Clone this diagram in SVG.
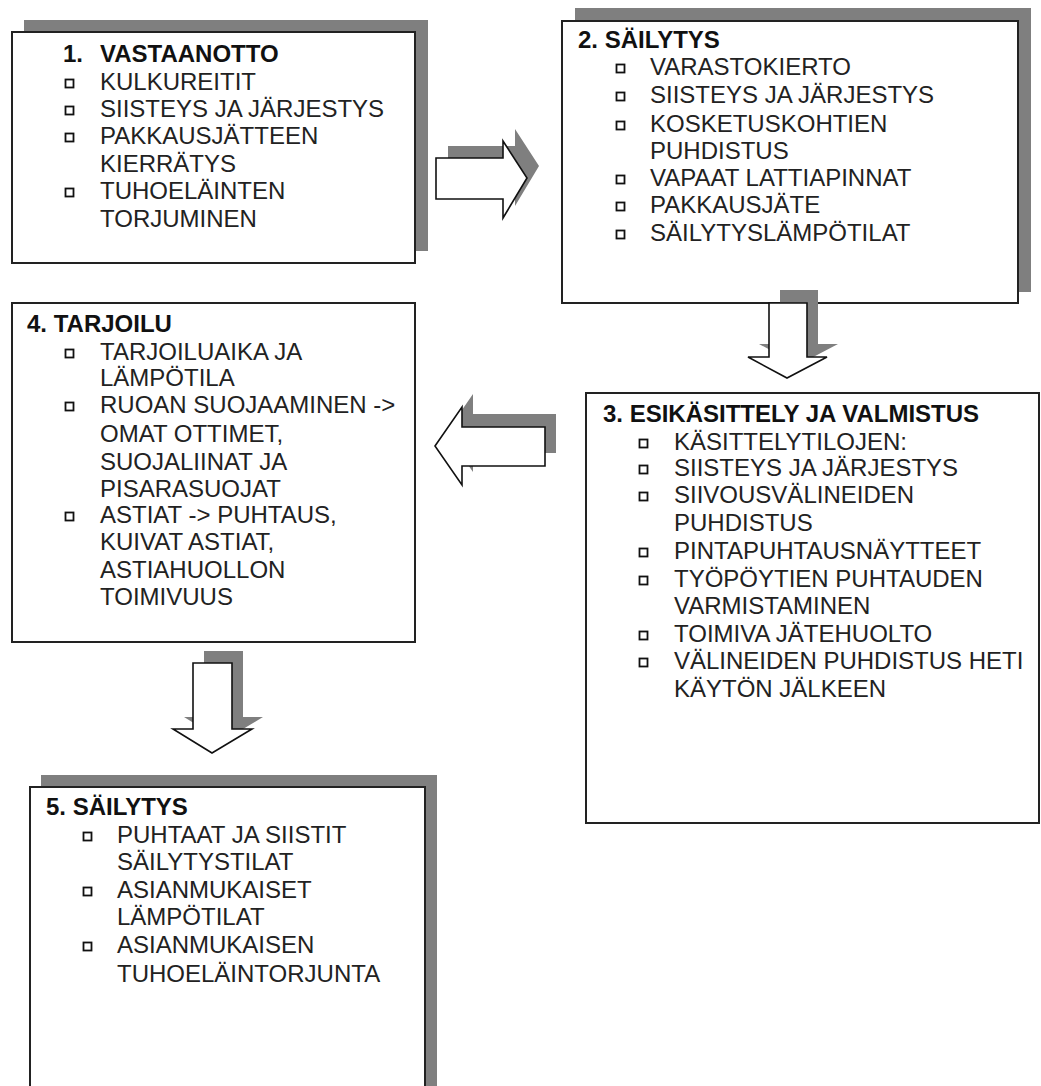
<svg xmlns="http://www.w3.org/2000/svg" width="1041" height="1086" viewBox="0 0 1041 1086">
<style>
.bg{fill:#ffffff}
.shadow{fill:#7f7f7f;stroke:none}
.box{fill:#ffffff;stroke:#222222;stroke-width:2}
.h{font-family:"Liberation Sans",Arial,sans-serif;font-size:24px;font-weight:bold;fill:#111111}
.t{font-family:"Liberation Sans",Arial,sans-serif;font-size:24px;fill:#222222}
.b{fill:none;stroke:#111111;stroke-width:1.8}
.arrow{fill:#ffffff;stroke:#111111;stroke-width:1.6;stroke-linejoin:miter}
</style>
<defs>
<rect id="bul" x="-0.5" y="-0.5" width="8" height="8" class="b"/>
</defs>
<rect class="bg" x="0" y="0" width="1041" height="1086"/>

<g id="node1">
<rect class="shadow" x="24" y="20" width="404" height="231"/>
<rect class="box" x="12" y="32" width="403" height="231"/>
<text class="h" x="63" y="62">1.<tspan x="100">VASTAANOTTO</tspan></text>
<use href="#bul" x="66" y="80"/><text class="t" x="100" y="90">KULKUREITIT</text>
<use href="#bul" x="66" y="107"/><text class="t" x="100" y="117">SIISTEYS JA JÄRJESTYS</text>
<use href="#bul" x="66" y="134"/><text class="t" x="100" y="144">PAKKAUSJÄTTEEN</text>
<text class="t" x="100" y="172">KIERRÄTYS</text>
<use href="#bul" x="66" y="189"/><text class="t" x="100" y="199">TUHOELÄINTEN</text>
<text class="t" x="100" y="227">TORJUMINEN</text>
</g>

<g id="node2">
<rect class="shadow" x="575" y="8" width="456" height="284"/>
<rect class="box" x="562" y="21" width="456" height="282"/>
<text class="h" x="578" y="48">2. SÄILYTYS</text>
<use href="#bul" x="617" y="65"/><text class="t" x="650" y="75">VARASTOKIERTO</text>
<use href="#bul" x="617" y="93"/><text class="t" x="650" y="103">SIISTEYS JA JÄRJESTYS</text>
<use href="#bul" x="617" y="122"/><text class="t" x="650" y="132">KOSKETUSKOHTIEN</text>
<text class="t" x="650" y="159">PUHDISTUS</text>
<use href="#bul" x="617" y="176"/><text class="t" x="650" y="186">VAPAAT LATTIAPINNAT</text>
<use href="#bul" x="617" y="203"/><text class="t" x="650" y="213">PAKKAUSJÄTE</text>
<use href="#bul" x="617" y="231"/><text class="t" x="650" y="241">SÄILYTYSLÄMPÖTILAT</text>
</g>

<g id="node3">
<rect class="box" x="586" y="393" width="453" height="430"/>
<text class="h" x="603" y="422">3. ESIKÄSITTELY JA VALMISTUS</text>
<use href="#bul" x="640" y="440"/><text class="t" x="674" y="450">KÄSITTELYTILOJEN:</text>
<use href="#bul" x="640" y="466"/><text class="t" x="674" y="476">SIISTEYS JA JÄRJESTYS</text>
<use href="#bul" x="640" y="493"/><text class="t" x="674" y="503">SIIVOUSVÄLINEIDEN</text>
<text class="t" x="674" y="531">PUHDISTUS</text>
<use href="#bul" x="640" y="549"/><text class="t" x="674" y="559">PINTAPUHTAUSNÄYTTEET</text>
<use href="#bul" x="640" y="577"/><text class="t" x="674" y="587">TYÖPÖYTIEN PUHTAUDEN</text>
<text class="t" x="674" y="614">VARMISTAMINEN</text>
<use href="#bul" x="640" y="632"/><text class="t" x="674" y="642">TOIMIVA JÄTEHUOLTO</text>
<use href="#bul" x="640" y="659"/><text class="t" x="674" y="669">VÄLINEIDEN PUHDISTUS HETI</text>
<text class="t" x="674" y="697">KÄYTÖN JÄLKEEN</text>
</g>

<g id="node4">
<rect class="box" x="12" y="303" width="403" height="339"/>
<text class="h" x="27" y="332">4. TARJOILU</text>
<use href="#bul" x="66" y="350"/><text class="t" x="100" y="360">TARJOILUAIKA JA</text>
<text class="t" x="100" y="386">LÄMPÖTILA</text>
<use href="#bul" x="66" y="403"/><text class="t" x="100" y="413">RUOAN SUOJAAMINEN -&gt;</text>
<text class="t" x="100" y="442">OMAT OTTIMET,</text>
<text class="t" x="100" y="470">SUOJALIINAT JA</text>
<text class="t" x="100" y="497">PISARASUOJAT</text>
<use href="#bul" x="66" y="513"/><text class="t" x="100" y="523">ASTIAT -&gt; PUHTAUS,</text>
<text class="t" x="100" y="550">KUIVAT ASTIAT,</text>
<text class="t" x="100" y="578">ASTIAHUOLLON</text>
<text class="t" x="100" y="605">TOIMIVUUS</text>
</g>

<g id="node5">
<rect class="shadow" x="41" y="775" width="396" height="330"/>
<rect class="box" x="30" y="787" width="395" height="330"/>
<text class="h" x="46" y="815">5. SÄILYTYS</text>
<use href="#bul" x="84" y="833"/><text class="t" x="117" y="843">PUHTAAT JA SIISTIT</text>
<text class="t" x="117" y="870">SÄILYTYSTILAT</text>
<use href="#bul" x="84" y="888"/><text class="t" x="117" y="898">ASIANMUKAISET</text>
<text class="t" x="117" y="925">LÄMPÖTILAT</text>
<use href="#bul" x="84" y="943"/><text class="t" x="117" y="953">ASIANMUKAISEN</text>
<text class="t" x="117" y="982">TUHOELÄINTORJUNTA</text>
</g>

<g id="connectors">
<g id="arrow1-2">
<polygon class="shadow" points="448,146 515,146 515,129 539,166 515,206 515,187 448,187"/>
<polygon class="arrow" points="436,158 503,158 503,141 527,178 503,218 503,199 436,199"/>
</g>
<g id="arrow2-3">
<polygon class="shadow" points="780,290 818,290 818,344 838,344 798,365 759,344 780,344"/>
<polygon class="arrow" points="769,303 807,303 807,357 827,357 787,378 748,357 769,357"/>
</g>
<g id="arrow3-4">
<polygon class="shadow" points="446,433 473,394 473,414 556,414 556,453 473,453 473,472"/>
<polygon class="arrow" points="435,446 462,407 462,427 545,427 545,466 462,466 462,485"/>
</g>
<g id="arrow4-5">
<polygon class="shadow" points="204,651 243,651 243,717 263,717 223,741 184,717 204,717"/>
<polygon class="arrow" points="193,663 232,663 232,729 252,729 212,753 173,729 193,729"/>
</g>
</g>
</svg>
